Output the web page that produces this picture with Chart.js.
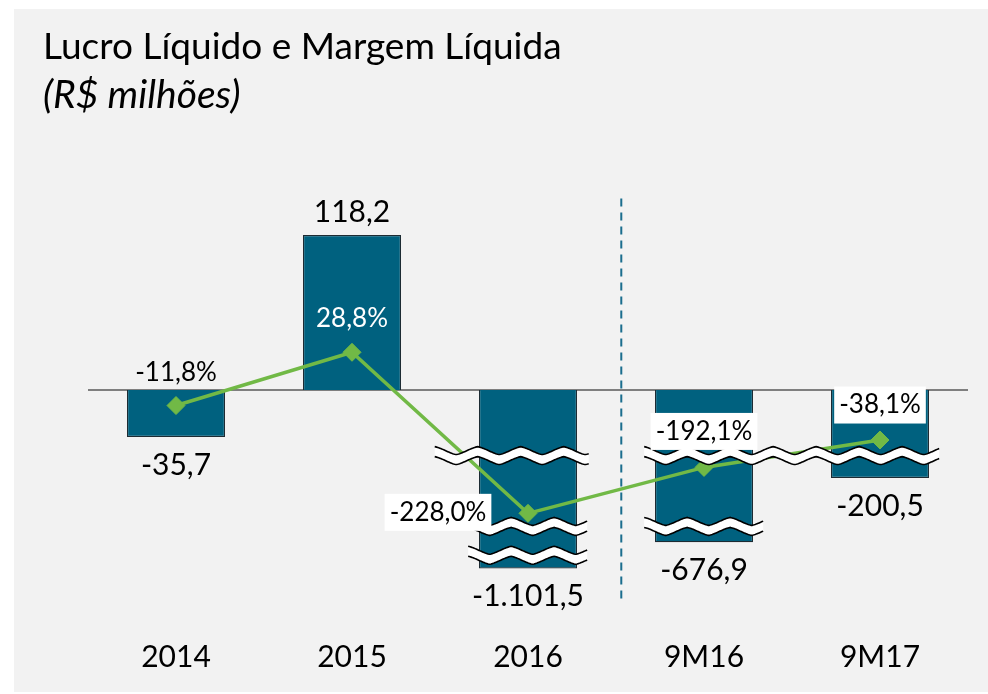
<!DOCTYPE html>
<html>
<head>
<meta charset="utf-8">
<script src="https://cdn.jsdelivr.net/npm/chart.js@4"></script>
<style>
  html, body { margin: 0; padding: 0; background: #ffffff; }
  #panel { position: absolute; left: 14px; top: 9px; width: 974px; height: 683px; background: #f2f2f2; }
  #chart { position: absolute; left: 0; top: 0; }
  .ttl { position: absolute; left: 43px; font-family: Lato, "Open Sans", sans-serif; font-size: 37px; line-height: 44px; color: #000; white-space: nowrap; }
  #t1 { top: 23px; }
  #t2 { top: 70px; font-style: italic; font-size: 39px; line-height: 46px; }
</style>
</head>
<body>
<div id="panel"></div>
<canvas id="chart" width="988" height="694"></canvas>
<div class="ttl" id="t1">Lucro Líquido e Margem Líquida</div>
<div class="ttl" id="t2">(R$ milhões)</div>
<script>
// ---- data ----
const categories = ['2014', '2015', '2016', '9M16', '9M17'];
const netIncome = [-35.7, 118.2, -1101.5, -676.9, -200.5];        // Lucro Líquido (R$ mi)
const netMargin = [-11.8, 28.8, -228.0, -192.1, -38.1];           // Margem Líquida (%)
// the reference cuts its axis (wavy break marks); these are the lengths drawn on the cut axis
const netIncomeCut = [-35.7, 118.2, -136, -116, -67];
const netMarginCut = [-11.8, 28.8, -94, -59, -38.1];

function fmtBR(v, suffix) {
  const neg = v < 0;
  const parts = Math.abs(v).toFixed(1).split('.');
  const int = parts[0].replace(/\B(?=(\d{3})+(?!\d))/g, '.');
  return (neg ? '-' : '') + int + ',' + parts[1] + (suffix || '');
}

const FONT = 'Lato, "Open Sans", sans-serif';
const BAR = '#00617f';
const GREEN = '#71b946';

// axis-break marks: category range (fractional index) and value where the axis is cut
const breaks = [
  { from: 1.47, to: 2.35, at: -50 },
  { from: 1.66, to: 2.34, at: -104 },
  { from: 1.66, to: 2.34, at: -126 },
  { from: 2.66, to: 4.34, at: -50 },
  { from: 2.66, to: 3.34, at: -104 }
];

function wave(x0, x1, y, amp, period, back) {
  const pts = [];
  for (let x = x0; x <= x1 + 0.01; x += 1) {
    const t = ((x - x0) / period) % 1;
    const tri = t < 0.5 ? (t * 4 - 1) : (3 - t * 4);
    const s = Math.sin(2 * Math.PI * (x - x0) / period - Math.PI / 2);
    pts.push([x, y + amp * (0.6 * tri + 0.4 * s)]);
  }
  if (back) pts.reverse();
  return pts;
}

const decoPlugin = {
  id: 'deco',
  beforeDatasetsDraw(chart) {
    const { ctx, chartArea, scales } = chart;
    const y0 = scales.y.getPixelForValue(0);
    ctx.save();
    ctx.strokeStyle = '#595959';
    ctx.lineWidth = 1.5;
    ctx.beginPath();
    ctx.moveTo(chartArea.left, y0);
    ctx.lineTo(chartArea.right, y0);
    ctx.stroke();
    const xs = scales.x.getPixelForValue(2.53);
    ctx.strokeStyle = '#1b6e8e';
    ctx.lineWidth = 2;
    ctx.setLineDash([8, 6]);
    ctx.beginPath();
    ctx.moveTo(xs, scales.y.getPixelForValue(146));
    ctx.lineTo(xs, scales.y.getPixelForValue(-159));
    ctx.stroke();
    ctx.restore();
  },
  afterDatasetsDraw(chart) {
    const { ctx, chartArea, scales } = chart;
    ctx.save();
    breaks.forEach(b => {
      const x0 = scales.x.getPixelForValue(b.from);
      const x1 = scales.x.getPixelForValue(b.to);
      const yc = scales.y.getPixelForValue(b.at);
      const top = wave(x0, x1, yc - 5, 4, 43, false);
      const bot = wave(x0, x1, yc + 5, 4, 43, true);
      ctx.beginPath();
      top.concat(bot).forEach((p, i) => i ? ctx.lineTo(p[0], p[1]) : ctx.moveTo(p[0], p[1]));
      ctx.closePath();
      ctx.fillStyle = '#ffffff';
      ctx.fill();
      ctx.strokeStyle = '#000000';
      ctx.lineWidth = 1.6;
      [top, bot].forEach(line => {
        ctx.beginPath();
        line.forEach((p, i) => i ? ctx.lineTo(p[0], p[1]) : ctx.moveTo(p[0], p[1]));
        ctx.stroke();
      });
    });

    ctx.textAlign = 'center';
    ctx.textBaseline = 'middle';
    const barMeta = chart.getDatasetMeta(1);
    ctx.font = '30px ' + FONT;
    ctx.fillStyle = '#000';
    barMeta.data.forEach((el, i) => {
      const v = netIncome[i];
      const y = v >= 0 ? el.y - 23 : el.y + 28;
      ctx.fillText(fmtBR(v), el.x, y);
    });
    const lineMeta = chart.getDatasetMeta(0);
    ctx.font = '26px ' + FONT;
    const place = [
      { dx: 0, dy: -33, color: '#000', box: false },
      { dx: 0, dy: -34, color: '#fff', box: false },
      { dx: -90, dy: -1, color: '#000', box: true },
      { dx: 0, dy: -36, color: '#000', box: true },
      { dx: 0, dy: -35, color: '#000', box: true }
    ];
    lineMeta.data.forEach((el, i) => {
      const txt = fmtBR(netMargin[i], '%');
      const p = place[i];
      const x = el.x + p.dx, y = el.y + p.dy;
      if (p.box) {
        const w = ctx.measureText(txt).width + 10;
        ctx.fillStyle = '#ffffff';
        ctx.fillRect(x - w / 2, y - 18.5, w, 37);
      }
      ctx.fillStyle = p.color;
      ctx.fillText(txt, x, y);
    });
    ctx.font = '30px ' + FONT;
    ctx.fillStyle = '#000';
    categories.forEach((c, i) => {
      ctx.fillText(c, scales.x.getPixelForValue(i), chartArea.bottom + 44);
    });
    ctx.restore();
  }
};

new Chart(document.getElementById('chart'), {
  type: 'bar',
  data: {
    labels: categories,
    datasets: [
      {
        type: 'line',
        label: 'Margem Líquida',
        data: netMarginCut,
        borderColor: GREEN,
        backgroundColor: GREEN,
        borderWidth: 3.5,
        pointStyle: 'rectRot',
        pointRadius: 9,
        pointBorderWidth: 1,
        pointBackgroundColor: GREEN,
        pointBorderColor: GREEN,
        tension: 0,
        order: 0
      },
      {
        type: 'bar',
        label: 'Lucro Líquido',
        data: netIncomeCut,
        backgroundColor: BAR,
        borderColor: '#1d2b33',
        borderWidth: 1.2,
        barPercentage: 0.557,
        categoryPercentage: 1,
        order: 1
      }
    ]
  },
  options: {
    responsive: false,
    animation: false,
    events: [],
    layout: { padding: { left: 88, right: 20, top: 154, bottom: 81 } },
    plugins: { legend: { display: false }, tooltip: { enabled: false }, title: { display: false } },
    scales: {
      x: { display: false, offset: true },
      y: { display: false, min: -170, max: 180 }
    }
  },
  plugins: [decoPlugin]
});
</script>
</body>
</html>
